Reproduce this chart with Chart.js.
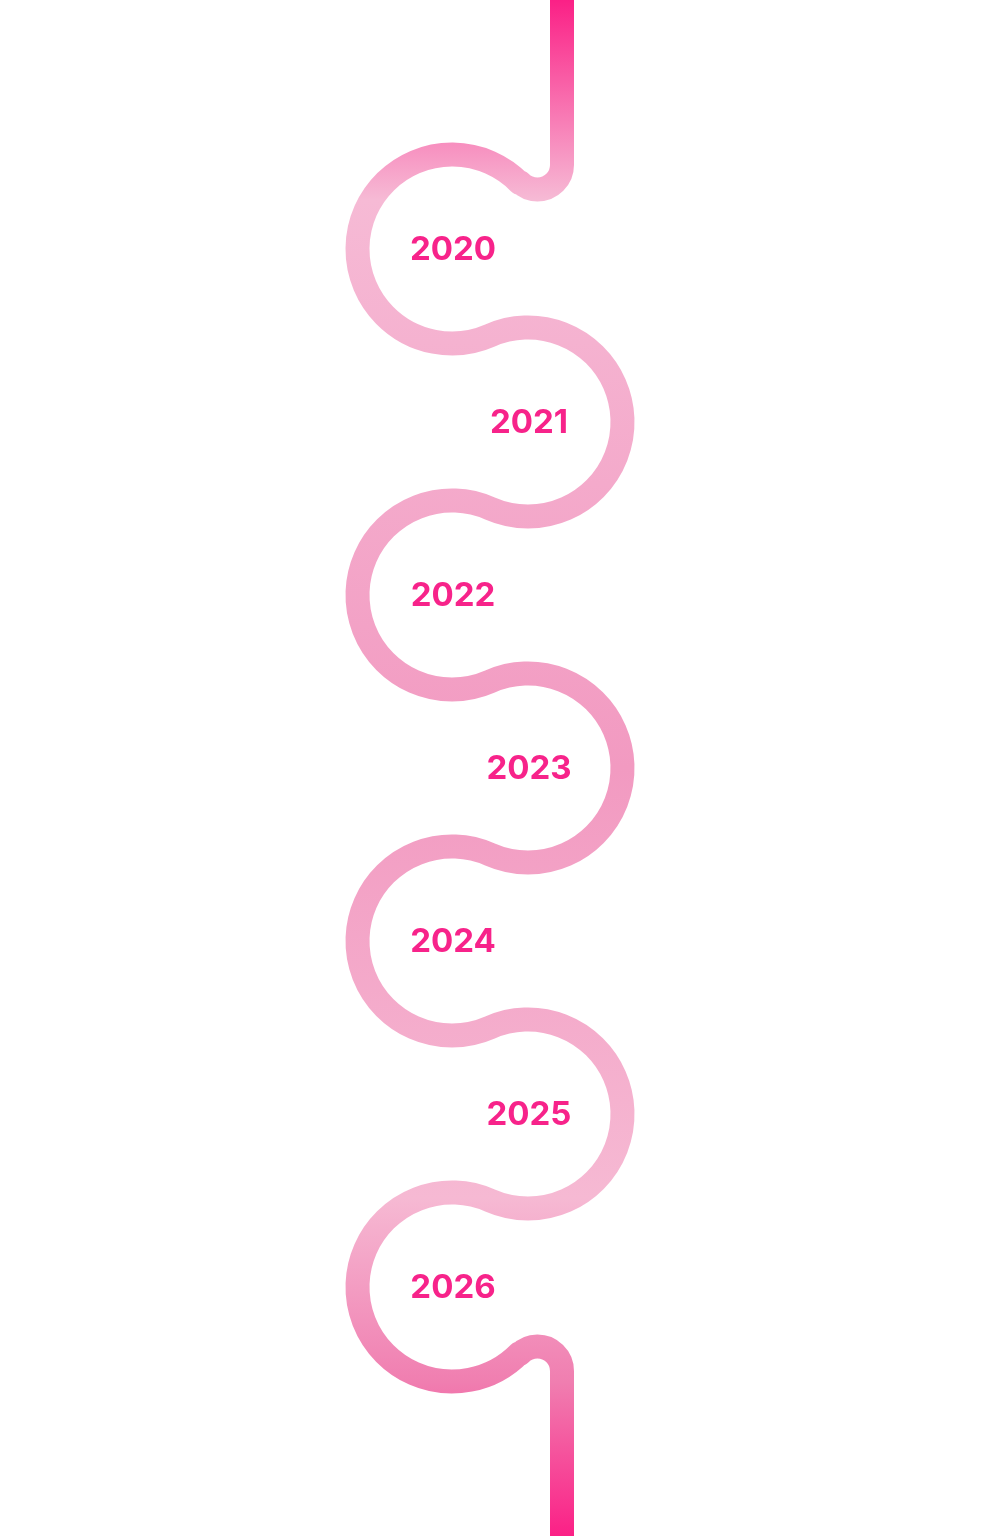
<!DOCTYPE html>
<html>
<head>
<meta charset="utf-8">
<script src="https://cdn.jsdelivr.net/npm/chart.js@4"></script>
<style>
  html, body { margin: 0; padding: 0; background: #fff; }
  #wrap { width: 993px; height: 1536px; }
</style>
</head>
<body>
<div id="wrap"><canvas id="timeline"></canvas></div>
<script>
// timeline data
const years = ["2020", "2021", "2022", "2023", "2024", "2025", "2026"];
const centerX = [452, 528, 452, 528, 452, 528, 452];
const centerY = [249, 422, 595, 768, 941, 1114, 1287];
const loopRadius = 94.5;   // in axis units
const hookRadius = 24.5;   // small turn at the ends
const lineX = 562;         // vertical lead in/out

const deg = Math.PI / 180;

// draws the serpentine path and year labels using the chart scales
const serpentine = {
  id: "serpentine",
  beforeDatasetsDraw(chart) {
    const ctx = chart.ctx;
    const xs = chart.scales.x, ys = chart.scales.y;
    const px = v => xs.getPixelForValue(v);
    const py = v => ys.getPixelForValue(v);
    const r = xs.getPixelForValue(loopRadius) - xs.getPixelForValue(0);
    const hr = xs.getPixelForValue(hookRadius) - xs.getPixelForValue(0);
    const n = years.length;

    const grad = ctx.createLinearGradient(0, py(0), 0, py(1536));
    grad.addColorStop(0, "#fb2086");
    grad.addColorStop(0.13, "#f6bad5");
    grad.addColorStop(0.5, "#f29ac1");
    grad.addColorStop(0.78, "#f6b9d3");
    grad.addColorStop(0.9, "#f07eb0");
    grad.addColorStop(1, "#fb2086");

    ctx.save();
    ctx.strokeStyle = grad;
    ctx.lineWidth = 24;
    ctx.lineCap = "butt";
    ctx.lineJoin = "round";
    ctx.beginPath();

    // top lead-in
    const topHookY = 165;
    ctx.moveTo(px(lineX), py(0));
    ctx.lineTo(px(lineX), py(topHookY));
    const hx = lineX - hookRadius;
    const a0 = Math.atan2(py(centerY[0]) - py(topHookY), px(centerX[0]) - px(hx));
    ctx.arc(px(hx), py(topHookY), hr, 0, a0, false);

    for (let i = 0; i < n; i++) {
      const cx = px(centerX[i]), cy = py(centerY[i]);
      let start, end;
      if (i === 0) {
        start = Math.atan2(py(topHookY) - cy, px(hx) - cx);
      } else {
        start = Math.atan2(py(centerY[i - 1]) - cy, px(centerX[i - 1]) - cx);
      }
      if (i === n - 1) {
        end = Math.atan2(py(1536 - topHookY) - cy, px(hx) - cx);
      } else {
        end = Math.atan2(py(centerY[i + 1]) - cy, px(centerX[i + 1]) - cx);
      }
      const leftSide = centerX[i] < centerX[(i + 1) % n] || (i === n - 1);
      ctx.arc(cx, cy, r, start, end, leftSide);
    }

    // bottom lead-out
    const botHookY = 1536 - topHookY;
    const aEnd = Math.atan2(py(centerY[n - 1]) - py(botHookY), px(centerX[n - 1]) - px(hx));
    ctx.arc(px(hx), py(botHookY), hr, aEnd, 0, false);
    ctx.lineTo(px(lineX), py(1536));
    ctx.stroke();

    // year labels
    ctx.fillStyle = "#f7238a";
    ctx.font = "bold 33px Inter, 'Noto Sans', sans-serif";
    ctx.textAlign = "center";
    ctx.textBaseline = "middle";
    years.forEach((y, i) => {
      ctx.fillText(y, px(centerX[i] + 1), py(centerY[i] + 1));
    });
    ctx.restore();
  }
};

new Chart(document.getElementById("timeline").getContext("2d"), {
  type: "scatter",
  data: {
    datasets: [{
      label: "Years",
      data: years.map((y, i) => ({ x: centerX[i], y: centerY[i] })),
      pointRadius: 0,
      showLine: false
    }]
  },
  options: {
    responsive: true,
    maintainAspectRatio: false,
    animation: false,
    layout: { padding: 0 },
    plugins: { legend: { display: false }, tooltip: { enabled: false } },
    scales: {
      x: { type: "linear", min: 0, max: 993, display: false },
      y: { type: "linear", min: 0, max: 1536, reverse: true, display: false }
    }
  },
  plugins: [serpentine]
});
</script>
</body>
</html>
